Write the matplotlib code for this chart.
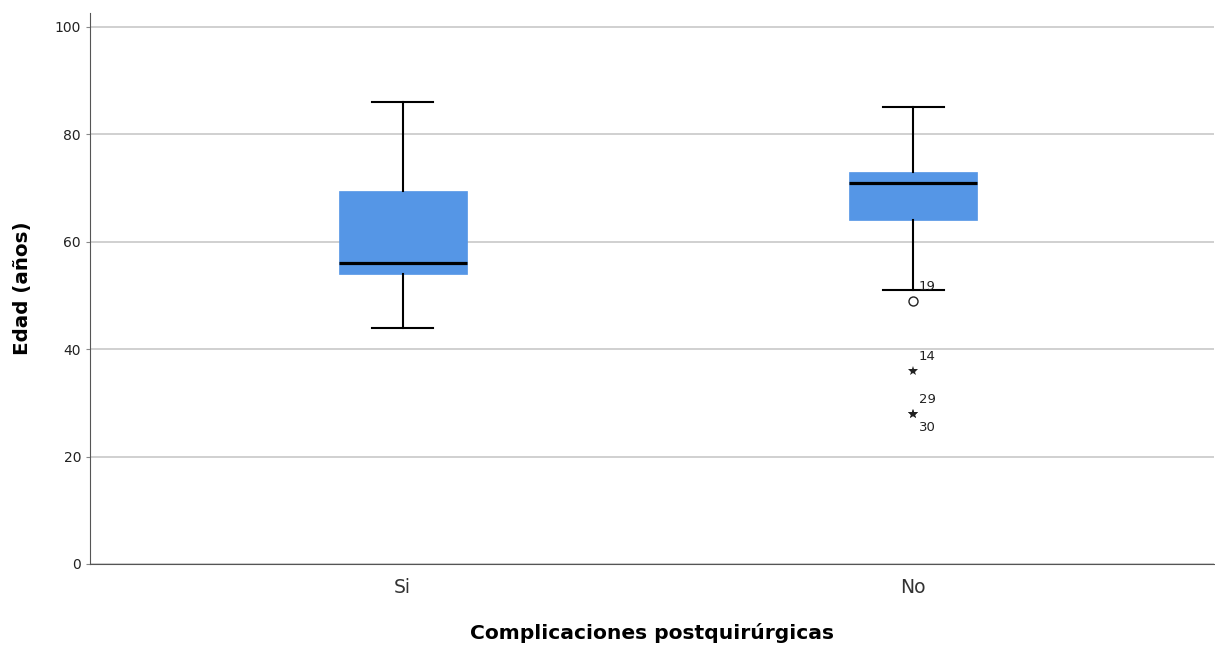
import matplotlib
matplotlib.use("Agg")
import matplotlib.pyplot as plt

plt.rcParams["font.family"] = ["DejaVu Sans"]

# data (SPSS style)
categories = ["Si", "No"]
q1 = [54, 64]
med = [56, 71]
q3 = [69.5, 73]
whislo = [44, 51]
whishi = [86, 85]

# outliers: (category index, value, case label, kind)
out_cat = [1, 1, 1, 1]
out_val = [49, 36, 28, 28]
out_lab = ["19", "14", "29", "30"]
out_kind = ["o", "*", "*", "*"]
out_dy = [10, 10, 10, -10]

BOX_COLOR = "#5596E6"

fig = plt.figure(figsize=(12.15, 6.47), dpi=100)
ax = fig.add_axes([0.0741, 0.1283, 0.925, 0.852])

stats = []
for i, c in enumerate(categories):
    stats.append(
        {"label": c, "q1": q1[i], "med": med[i], "q3": q3[i],
         "whislo": whislo[i], "whishi": whishi[i], "fliers": []}
    )

positions = list(range(1, len(categories) + 1))
ax.bxp(
    stats,
    positions=positions,
    widths=0.25,
    patch_artist=True,
    showfliers=False,
    boxprops=dict(facecolor=BOX_COLOR, edgecolor=BOX_COLOR, linewidth=0.5),
    medianprops=dict(color="black", linewidth=2.3),
    whiskerprops=dict(color="black", linewidth=1.5),
    capprops=dict(color="black", linewidth=1.5),
    capwidths=0.12,
    zorder=3,
)

# outliers and their case numbers
for c, v, lab, k, dy in zip(out_cat, out_val, out_lab, out_kind, out_dy):
    x = positions[c]
    if k == "o":
        ax.plot(x, v, marker="o", markersize=6.5, markerfacecolor="white",
                markeredgecolor="#222222", markeredgewidth=1.0, zorder=4)
    else:
        ax.plot(x, v, marker="*", markersize=7.5, color="#222222",
                markeredgewidth=0, zorder=4)
    ax.annotate(lab, xy=(x, v), xytext=(4, dy), textcoords="offset points",
                fontsize=9.5, color="#222222", ha="left", va="center")

ax.set_xlim(0.3875, 2.589)
ax.set_ylim(0, 102.6)
ax.set_yticks([0, 20, 40, 60, 80, 100])
ax.yaxis.grid(True, color="#c8c8c8", linewidth=1.2, zorder=0)
ax.set_axisbelow(True)

ax.set_xticks(positions)
ax.set_xticklabels(categories, fontsize=13.5, color="#333333")
ax.tick_params(axis="x", length=0, pad=10)
ax.tick_params(axis="y", length=3, labelsize=10, color="#888888", labelcolor="#222222")

for s in ["top", "right"]:
    ax.spines[s].set_visible(False)
ax.spines["left"].set_color("#555555")
ax.spines["bottom"].set_color("#555555")

ax.set_xlabel("Complicaciones postquirúrgicas", fontsize=14.6, fontweight="bold", labelpad=19)
ax.set_ylabel("Edad (años)", fontsize=14.3, fontweight="bold", labelpad=16)

fig.savefig("out.png", dpi=100)
